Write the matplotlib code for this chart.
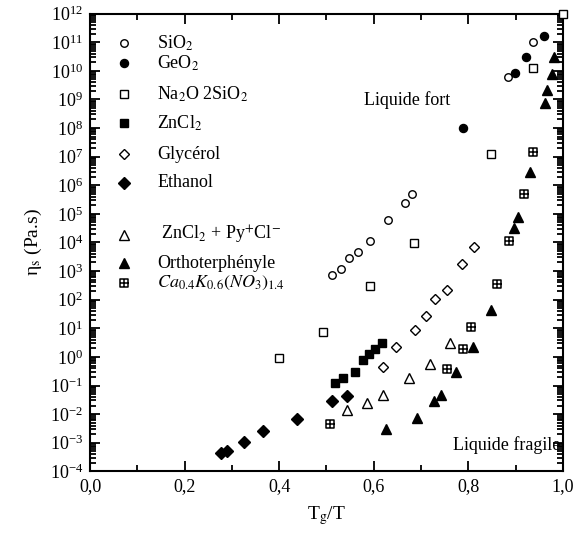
import numpy as np
import matplotlib
matplotlib.use("Agg")
import matplotlib.pyplot as plt
from matplotlib.path import Path
from matplotlib.ticker import FixedLocator, LogLocator, NullFormatter

plt.rcParams['font.family'] = ['Liberation Serif', 'DejaVu Serif']
plt.rcParams['mathtext.fontset'] = 'stix'

# Reduced temperature Tg/T and log10 of shear viscosity (Pa.s)
sio2_x = [0.511, 0.530, 0.548, 0.567, 0.592, 0.631, 0.667, 0.680, 0.884, 0.936, 1.0]
sio2_logy = [2.86, 3.06, 3.45, 3.68, 4.06, 4.79, 5.39, 5.69, 9.78, 11.0, 12.0]

geo2_x = [0.789, 0.899, 0.922, 0.960]
geo2_logy = [8.01, 9.92, 10.50, 11.22]

na2o_x = [0.400, 0.493, 0.592, 0.686, 0.847, 0.936, 1.0]
na2o_logy = [-0.04, 0.86, 2.48, 3.99, 7.08, 10.11, 12.0]

zncl2_x = [0.517, 0.534, 0.560, 0.578, 0.590, 0.603, 0.617]
zncl2_logy = [-0.92, -0.75, -0.52, -0.11, 0.09, 0.28, 0.48]

glycerol_x = [0.619, 0.648, 0.687, 0.710, 0.729, 0.755, 0.786, 0.811]
glycerol_logy = [-0.37, 0.34, 0.94, 1.44, 2.03, 2.33, 3.24, 3.84]

ethanol_x = [0.276, 0.289, 0.326, 0.365, 0.437, 0.512, 0.544]
ethanol_logy = [-3.37, -3.28, -2.97, -2.58, -2.17, -1.54, -1.37]

znpy_x = [0.543, 0.586, 0.619, 0.674, 0.719, 0.761]
znpy_logy = [-1.84, -1.62, -1.33, -0.72, -0.25, 0.48]

otp_x = [0.625, 0.692, 0.727, 0.743, 0.774, 0.810, 0.848, 0.897, 0.905,
         0.930, 0.963, 0.967, 0.976, 0.980]
otp_logy = [-2.53, -2.14, -1.54, -1.33, -0.53, 0.36, 1.65, 4.50, 4.88,
            6.48, 8.89, 9.33, 9.89, 10.50]

ckn_x = [0.508, 0.754, 0.789, 0.806, 0.860, 0.886, 0.918, 0.936]
ckn_logy = [-2.35, -0.43, 0.27, 1.05, 2.55, 4.06, 5.69, 7.17]

labels = [r'SiO$_2$', r'GeO$_2$', r'Na$_2$O 2SiO$_2$', r'ZnCl$_2$', 'Glycérol',
          'Ethanol', r' ZnCl$_2$ + Py$^{+}$Cl$^{-}$', 'Orthoterphényle',
          r'$Ca_{0.4}K_{0.6}(NO_3)_{1.4}$']

x_ticks = [0.0, 0.2, 0.4, 0.6, 0.8, 1.0]
x_ticklabels = ['0,0', '0,2', '0,4', '0,6', '0,8', '1,0']

# square with a cross inside
cross_sq = Path(
    [(-1, -1), (1, -1), (1, 1), (-1, 1), (-1, -1),
     (0, -1), (0, 1), (-1, 0), (1.35, 0)],
    [Path.MOVETO, Path.LINETO, Path.LINETO, Path.LINETO, Path.CLOSEPOLY,
     Path.MOVETO, Path.LINETO, Path.MOVETO, Path.LINETO])

styles = [
    dict(marker='o', ms=5.4, mfc='white', mec='black', mew=1.0),
    dict(marker='o', ms=5.8, mfc='black', mec='black', mew=1.0),
    dict(marker='s', ms=5.2, mfc='white', mec='black', mew=1.0),
    dict(marker='s', ms=5.8, mfc='black', mec='black', mew=1.0),
    dict(marker='D', ms=5.2, mfc='white', mec='black', mew=1.0),
    dict(marker='D', ms=6.2, mfc='black', mec='black', mew=1.0),
    dict(marker='^', ms=7.0, mfc='white', mec='black', mew=1.0),
    dict(marker='^', ms=7.5, mfc='black', mec='black', mew=1.0),
    dict(marker=cross_sq, ms=7.5, mfc='white', mec='black', mew=1.1),
]

series = [(sio2_x, sio2_logy), (geo2_x, geo2_logy), (na2o_x, na2o_logy),
          (zncl2_x, zncl2_logy), (glycerol_x, glycerol_logy),
          (ethanol_x, ethanol_logy), (znpy_x, znpy_logy),
          (otp_x, otp_logy), (ckn_x, ckn_logy)]

fig = plt.figure(figsize=(5.77, 5.35), dpi=100)
ax = fig.add_axes([0.156, 0.119, 0.8197, 0.8555])

for (xs, ly), st in zip(series, styles):
    ax.plot(xs, np.power(10.0, ly), linestyle='none', clip_on=False, zorder=3, **st)

ax.set_yscale('log')
ax.set_xlim(0.0, 1.0)
ax.set_ylim(1e-4, 1e12)

ax.xaxis.set_major_locator(FixedLocator(x_ticks))
ax.set_xticklabels(x_ticklabels)
ax.xaxis.set_minor_locator(FixedLocator([0.1, 0.3, 0.5, 0.7, 0.9]))
ax.yaxis.set_major_locator(LogLocator(base=10, numticks=40))
ax.yaxis.set_minor_locator(LogLocator(base=10, subs=np.arange(2, 10), numticks=40))
ax.yaxis.set_minor_formatter(NullFormatter())

ax.tick_params(which='both', direction='in', top=True, right=True,
               labelsize=13, width=1.3)
ax.tick_params(which='major', length=7, pad=5)
ax.tick_params(which='minor', length=4)
for sp in ax.spines.values():
    sp.set_linewidth(1.5)

ax.set_xlabel(r'T$_{\rm g}$/T', fontsize=14, labelpad=6)
ax.set_ylabel('η$_{\\rm s}$ (Pa.s)', fontsize=14, labelpad=4)

# legend entries
leg_y = [0.936, 0.892, 0.824, 0.761, 0.693, 0.630, 0.516, 0.455, 0.411]
for yy, st, lab in zip(leg_y, styles, labels):
    ax.plot([0.072], [yy], transform=ax.transAxes, linestyle='none',
            clip_on=False, **st)
    ax.text(0.142, yy, lab, transform=ax.transAxes, fontsize=13,
            va='center', ha='left')

ax.text(0.67, 10 ** 8.98, 'Liquide fort', fontsize=13, ha='center', va='center')
ax.text(0.882, 10 ** -3.07, 'Liquide fragile', fontsize=13, ha='center', va='center')

fig.savefig('out.png', dpi=100)
